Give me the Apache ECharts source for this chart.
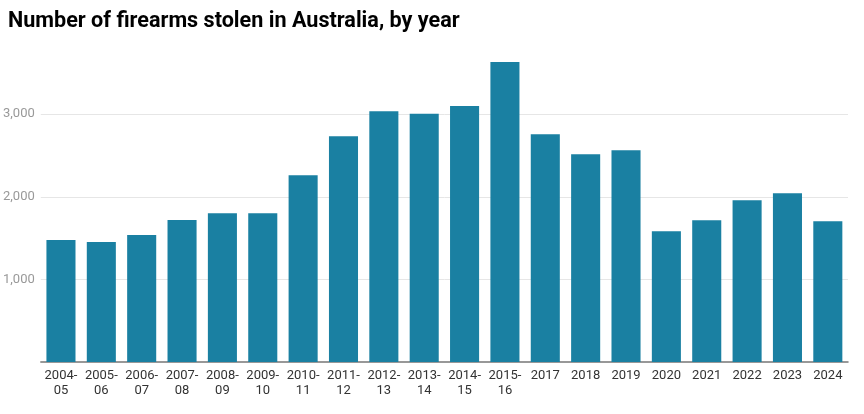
<!DOCTYPE html>
<html><head><meta charset="utf-8">
<script src="https://cdn.jsdelivr.net/npm/echarts@6/dist/echarts.min.js"></script>
<style>html,body{margin:0;padding:0;background:#fff}#c{width:864px;height:414px}</style>
</head><body><div id="c"></div>
<script>
const categories = ['2004-\n05','2005-\n06','2006-\n07','2007-\n08','2008-\n09','2009-\n10','2010-\n11','2011-\n12','2012-\n13','2013-\n14','2014-\n15','2015-\n16','2017','2018','2019','2020','2021','2022','2023','2024'];
const stolen = [1477,1453,1538,1719,1802,1802,2261,2733,3035,3005,3099,3632,2757,2515,2563,1584,1717,1959,2043,1705];
const yTicks = [1000,2000,3000];
const title = 'Number of firearms stolen in Australia, by year';

const chart = echarts.init(document.getElementById('c'));
chart.setOption({
  animation:false,
  title:{text:title,left:3,top:6,textStyle:{fontFamily:'Roboto',fontWeight:'bold',fontSize:21.6,color:'#000'}},
  grid:{left:40,right:16,top:31.6,bottom:52},
  xAxis:{type:'category',data:categories,
    axisLine:{lineStyle:{color:'#777',width:1.5}},axisTick:{show:false},
    axisLabel:{interval:0,fontFamily:'Roboto',fontSize:13,color:'#333',lineHeight:15,margin:6}},
  yAxis:{type:'value',min:0,max:4000,interval:1000,
    axisLine:{show:false},axisTick:{show:false},
    splitLine:{showMinLine:false,showMaxLine:false,lineStyle:{color:'#e6e6e6',width:1}},
    axisLabel:{fontFamily:'Roboto',fontSize:13,color:'#999',margin:6,
      formatter:v=>yTicks.includes(v)?v.toLocaleString('en-US'):''}},
  series:[{type:'bar',data:stolen,barWidth:'72%',itemStyle:{color:'#1a80a2'}}]
});
</script></body></html>
